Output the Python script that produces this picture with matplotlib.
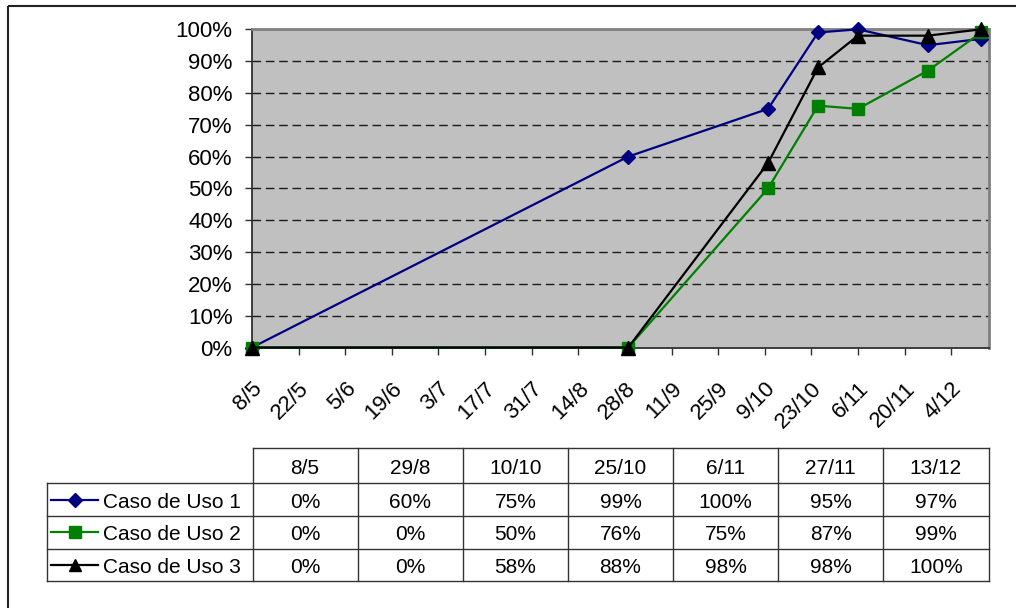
import matplotlib
matplotlib.use('Agg')
import matplotlib.pyplot as plt
import numpy as np
from datetime import date

plt.rcParams['font.family'] = ['Liberation Sans', 'DejaVu Sans']

# ---------------- data ----------------
start_date = date(2006, 5, 8)
point_dates = [date(2006, 5, 8), date(2006, 8, 29), date(2006, 10, 10),
               date(2006, 10, 25), date(2006, 11, 6), date(2006, 11, 27),
               date(2006, 12, 13)]
date_labels = ['8/5', '29/8', '10/10', '25/10', '6/11', '27/11', '13/12']
series_names = ['Caso de Uso 1', 'Caso de Uso 2', 'Caso de Uso 3']
caso1 = [0, 60, 75, 99, 100, 95, 97]
caso2 = [0, 0, 50, 76, 75, 87, 99]
caso3 = [0, 0, 58, 88, 98, 98, 100]
tick_labels = ['8/5', '22/5', '5/6', '19/6', '3/7', '17/7', '31/7', '14/8',
               '28/8', '11/9', '25/9', '9/10', '23/10', '6/11', '20/11', '4/12']
y_ticks = [0, 10, 20, 30, 40, 50, 60, 70, 80, 90, 100]

# ---------------- styles ----------------
colors = ['#000080', '#008000', '#000000']
markers = ['D', 's', '^']
msizes = [7.4, 9.2, 9.6]

W, H = 1016, 608
DPI = 100
fig = plt.figure(figsize=(W / DPI, H / DPI), dpi=DPI)

ax_l, ax_r, ax_t, ax_b = 252.0, 988.5, 29.3, 347.5
ax = fig.add_axes([ax_l / W, 1 - ax_b / H, (ax_r - ax_l) / W, (ax_b - ax_t) / H])
ax.set_facecolor('#C0C0C0')

days = [(d - start_date).days for d in point_dates]
all_series = [caso1, caso2, caso3]
for vals, c, m, ms in zip(all_series, colors, markers, msizes):
    ax.plot(days, vals, color=c, lw=1.6, marker=m, markersize=ms,
            markerfacecolor=c, markeredgecolor=c, clip_on=False, zorder=3)

tick_days = np.arange(len(tick_labels)) * 14
ax.set_xlim(0, 221.2)
ax.set_ylim(0, 100)
ax.set_xticks(tick_days)
ax.set_xticklabels(tick_labels, rotation=45, ha='right', va='top',
                   rotation_mode='anchor', fontsize=16)
ax.set_yticks(y_ticks)
ax.set_yticklabels([f'{v}%' for v in y_ticks], fontsize=16)
ax.tick_params(axis='x', direction='out', length=5, width=1, color='#303030', pad=17)
ax.tick_params(axis='y', direction='out', length=5, width=1, color='#303030', pad=9)

for v in y_ticks[1:-1]:
    ax.axhline(v, color='#1a1a1a', lw=1.0, ls=(0, (6.2, 3.4)), zorder=1)

for s in ['top', 'right']:
    ax.spines[s].set_color('#808080')
    ax.spines[s].set_linewidth(2.0)
for s in ['left', 'bottom']:
    ax.spines[s].set_color('#303030')
    ax.spines[s].set_linewidth(1.3)

# ---------------- overlay in pixel coordinates ----------------
ov = fig.add_axes([0, 0, 1, 1], zorder=-1)
ov.set_xlim(0, W)
ov.set_ylim(H, 0)
ov.axis('off')

# figure border (top & left)
ov.plot([8, W], [5.5, 5.5], color='#222222', lw=1.5, solid_capstyle='butt')
ov.plot([8, 8], [5.5, H], color='#222222', lw=1.5, solid_capstyle='butt')

# data table
col_edges = np.linspace(ax_l + 0.5, ax_r, len(date_labels) + 1)
row_edges = [448, 483, 516, 548.5, 581]
leg_left = 47
line_c = '#333333'
tlw = 1.0

ov.plot([col_edges[0], col_edges[-1]], [row_edges[0], row_edges[0]], color=line_c, lw=tlw)
for x in col_edges:
    ov.plot([x, x], [row_edges[0], row_edges[-1]], color=line_c, lw=tlw)
for y in row_edges[1:]:
    ov.plot([leg_left, col_edges[-1]], [y, y], color=line_c, lw=tlw)
ov.plot([leg_left, leg_left], [row_edges[1], row_edges[-1]], color=line_c, lw=tlw)

fs_t = 15
centers_x = (col_edges[:-1] + col_edges[1:]) / 2
hdr_c = (row_edges[0] + row_edges[1]) / 2
for cx, lab in zip(centers_x, date_labels):
    ov.text(cx, hdr_c + 8, lab, ha='center', va='baseline', fontsize=fs_t)

for i, (name, vals, c, m, ms) in enumerate(zip(series_names, all_series, colors, markers, msizes)):
    rc = (row_edges[i + 1] + row_edges[i + 2]) / 2
    ov.plot([51, 98], [rc, rc], color=c, lw=1.6)
    ov.plot([75], [rc], marker=m, markersize=ms * 0.95, color=c, markeredgecolor=c)
    ov.text(103, rc + 8, name, ha='left', va='baseline', fontsize=fs_t)
    for cx, v in zip(centers_x, vals):
        ov.text(cx, rc + 8, f'{v}%', ha='center', va='baseline', fontsize=fs_t)

fig.savefig('out.png', dpi=DPI)
